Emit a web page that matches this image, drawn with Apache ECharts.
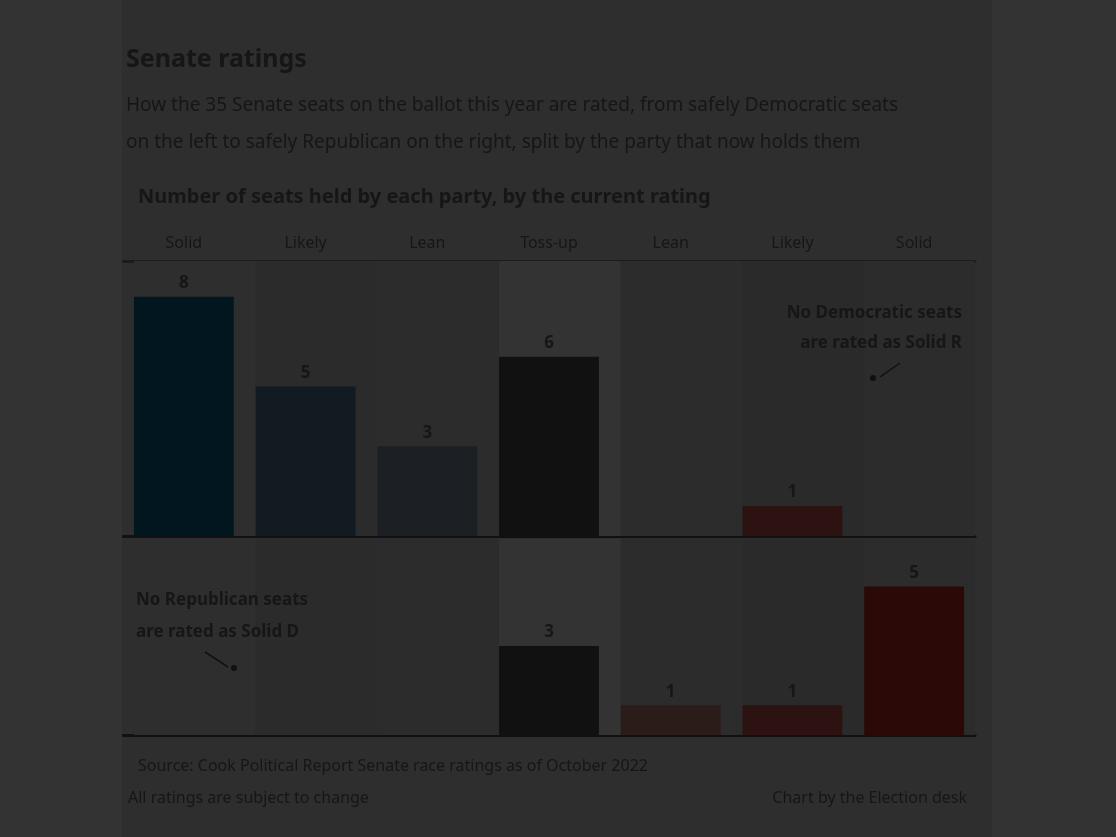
<!DOCTYPE html>
<html>
<head>
<meta charset="utf-8">
<script src="https://cdn.jsdelivr.net/npm/echarts@6/dist/echarts.min.js"></script>
<style>
  html, body { margin: 0; padding: 0; background: #333333; }
  #panel { position: absolute; left: 122px; top: 0; width: 870px; height: 837px; background: #2e2e2e; }
  #chart { width: 870px; height: 837px; }
</style>
</head>
<body>
<div id="panel"><div id="chart"></div></div>
<script>
// ---- data ----
const categories = ['Solid D', 'Likely D', 'Lean D', 'Toss-up', 'Lean R', 'Likely R', 'Solid R'];
const headerLabels = ['Solid', 'Likely', 'Lean', 'Toss-up', 'Lean', 'Likely', 'Solid'];
const demHeld = [8, 5, 3, 6, 0, 1, 0];
const repHeld = [0, 0, 0, 3, 1, 1, 5];

// ---- styles ----
const barColors = ['#01161f', '#111b21', '#1c2024', '#111111', '#2b1c1a', '#2c1312', '#2a0907'];
const columnShades = ['#2e2e2e', '#2b2b2b', '#2c2c2c', '#333333', '#2c2c2c', '#2a2a2a', '#2c2c2c'];
const textColor = '#161616';
const font = 'Noto Sans';
const topMax = 9.2, bottomMax = 6.6;

const chart = echarts.init(document.getElementById('chart'));

function barSeries(values, idx) {
  return {
    type: 'bar',
    xAxisIndex: idx === 0 ? 0 : 2,
    yAxisIndex: idx,
    barWidth: '82%',
    z: 3,
    data: values.map((v, i) => ({ value: v, itemStyle: { color: barColors[i] } })),
    label: {
      show: true, position: 'top', distance: 5, color: textColor,
      fontFamily: font, fontSize: 17, fontWeight: 'bold',
      formatter: p => (p.value > 0 ? String(p.value) : '')
    }
  };
}
function bgSeries(max, idx) {
  return {
    type: 'bar',
    xAxisIndex: idx === 0 ? 0 : 2,
    yAxisIndex: idx,
    barWidth: '100%',
    barGap: '-100%',
    silent: true,
    z: 1,
    data: categories.map((c, i) => ({ value: max, itemStyle: { color: columnShades[i] } }))
  };
}
function t(text, pos, size, weight, extra) {
  return Object.assign({ text: text, padding: 0,
    textStyle: Object.assign({ color: textColor, fontSize: size, fontWeight: weight, fontFamily: font }, extra || {}) }, pos);
}

const option = {
  animation: false,
  textStyle: { fontFamily: font },
  title: [
    t('Senate ratings', { left: 4, top: 47 }, 25, 'bold'),
    t('How the 35 Senate seats on the ballot this year are rated, from safely Democratic seats\non the left to safely Republican on the right, split by the party that now holds them',
      { left: 4, top: 87 }, 19, 'normal', { lineHeight: 37 }),
    t('Number of seats held by each party, by the current rating', { left: 16, top: 187 }, 20, 'bold'),
    t('Source: Cook Political Report Senate race ratings as of October 2022', { left: 16, top: 758 }, 16, 'normal'),
    t('All ratings are subject to change', { left: 6, top: 790 }, 16, 'normal'),
    t('Chart by the Election desk', { right: 25, top: 790 }, 16, 'normal')
  ],
  grid: [
    { left: 1, right: 17, top: 261, height: 275 },
    { left: 1, right: 17, top: 539, height: 196 }
  ],
  xAxis: [
    { type: 'category', gridIndex: 0, data: categories, position: 'bottom',
      axisLine: { show: true, lineStyle: { color: '#111111', width: 3 } },
      axisTick: { show: false }, axisLabel: { show: false } },
    { type: 'category', gridIndex: 0, data: categories, position: 'top',
      axisLine: { show: true, lineStyle: { color: '#1c1c1c', width: 3 } },
      axisTick: { show: false },
      axisLabel: { show: true, margin: 10, color: textColor, fontFamily: font, fontSize: 16,
        formatter: (v, i) => headerLabels[i] } },
    { type: 'category', gridIndex: 1, data: categories, position: 'bottom',
      axisLine: { show: true, lineStyle: { color: '#111111', width: 3 } },
      axisTick: { show: false }, axisLabel: { show: false } }
  ],
  yAxis: [
    { type: 'value', gridIndex: 0, min: 0, max: topMax, show: false, splitLine: { show: false } },
    { type: 'value', gridIndex: 1, min: 0, max: bottomMax, show: false, splitLine: { show: false } }
  ],
  series: [
    bgSeries(topMax, 0),
    barSeries(demHeld, 0),
    bgSeries(bottomMax, 1),
    barSeries(repHeld, 1)
  ],
  graphic: [
    { type: 'text', right: 30, top: 298, z: 10,
      style: { text: 'No Democratic seats\nare rated as Solid R', fill: textColor, font: 'bold 17px "Noto Sans"',
        textAlign: 'right', lineHeight: 30 } },
    { type: 'line', z: 10, shape: { x1: 778, y1: 363, x2: 758, y2: 377 },
      style: { stroke: '#111111', lineWidth: 1.5 } },
    { type: 'circle', z: 10, shape: { cx: 751, cy: 378, r: 3 }, style: { fill: '#111111' } },
    { type: 'text', left: 14, top: 584, z: 10,
      style: { text: 'No Republican seats\nare rated as Solid D', fill: textColor, font: 'bold 17px "Noto Sans"',
        textAlign: 'left', lineHeight: 32 } },
    { type: 'line', z: 10, shape: { x1: 83, y1: 652, x2: 106, y2: 667 },
      style: { stroke: '#111111', lineWidth: 1.5 } },
    { type: 'circle', z: 10, shape: { cx: 112, cy: 668, r: 3 }, style: { fill: '#111111' } }
  ]
};
chart.setOption(option);
</script>
</body>
</html>
